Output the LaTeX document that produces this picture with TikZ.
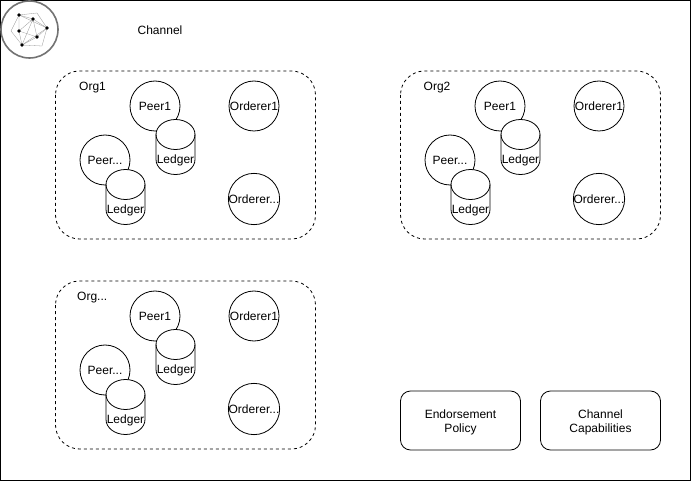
\documentclass[tikz,border=0pt]{standalone}
\usepackage{fontspec}
\setmainfont{Liberation Sans}
\tikzset{
  x=1pt,y=-1pt,
  lbl/.style={font=\fontsize{12}{15}\selectfont,inner sep=0pt,align=center,text=black},
  orgbox/.style={draw=black,rounded corners=24pt,line width=0.8pt,dash pattern=on 3pt off 3pt},
  solidbox/.style={draw=black,rounded corners=10pt,line width=0.8pt,fill=white},
  round/.style={draw=black,circle,minimum size=50pt,inner sep=0pt,line width=0.8pt,fill=white,font=\fontsize{12}{14}\selectfont},
  cyl/.style={draw=black,fill=white,line width=0.8pt},
  lnet/.style={draw=black!40,line width=0.3pt},
  ldot/.style={fill=black,circle,inner sep=0pt,minimum size=3.6pt},
}
\newcommand{\ledgerat}[3]{% x, y(top), name
  \draw[cyl] (#1,#2+15) .. controls (#1,#2+6.7) and (#1+8.8,#2) .. (#1+19.5,#2)
     .. controls (#1+30.2,#2) and (#1+39,#2+6.7) .. (#1+39,#2+15) -- (#1+39,#2+40)
     .. controls (#1+39,#2+48.3) and (#1+30.2,#2+55) .. (#1+19.5,#2+55)
     .. controls (#1+8.8,#2+55) and (#1,#2+48.3) .. (#1,#2+40) -- cycle;
  \draw[cyl,fill=none] (#1,#2+15) .. controls (#1,#2+23.3) and (#1+8.8,#2+30) .. (#1+19.5,#2+30)
     .. controls (#1+30.2,#2+30) and (#1+39,#2+23.3) .. (#1+39,#2+15);
  \node[lbl] (#3) at (#1+19.5,#2+41) {Ledger};
}
\newcommand{\orggroup}[5]{% dx, dy, prefix, label, label x
  \begin{scope}[shift={(#1,#2)}]
  \draw[orgbox] (55.5,71) rectangle (315.5,239);
  \node[lbl,anchor=base west] (#3name) at (#5,91) {#4};
  \node[round] (#3peerA) at (155,106) {Peer1};
  \ledgerat{156}{119.5}{#3ledgerA}
  \node[round] (#3peerB) at (105,160) {Peer...};
  \ledgerat{106}{169.5}{#3ledgerB}
  \node[round] (#3ordA) at (254,106) {Orderer1};
  \node[round] (#3ordB) at (254,199) {Orderer...};
  \end{scope}
}
\begin{document}
\begin{tikzpicture}
\useasboundingbox (0,0) rectangle (691,481);
\fill[white] (0,0) rectangle (691,481);
\draw[black,line width=1pt] (0.5,0.5) rectangle (690.5,480.5);
% logo
\node[draw=black!55,circle,minimum size=57pt,inner sep=0pt,line width=1.6pt,fill=white] (logo) at (29.5,29.5) {};
\coordinate (p1) at (19,15);
\coordinate (p2) at (33,19);
\coordinate (p3) at (47,28);
\coordinate (p4) at (19,31);
\coordinate (p5) at (37,37);
\coordinate (p6) at (22,45);
\coordinate (q1) at (37,13);
\coordinate (q2) at (11,31);
\coordinate (q3) at (42,46);
\draw[lnet] (p1)--(q1)--(p3)--(q3)--(p6)--(q2)--cycle;
\draw[lnet] (p1)--(p2)--(p3)--(p5)--(p6)--(p4)--cycle;
\draw[lnet] (p2)--(p4)--(p5)--(p2)--(p6);
\draw[lnet] (p1)--(p3)--(p6);
\foreach \n in {p1,p2,p3,p4,p5,p6}{\node[ldot] at (\n) {};}
\node[lbl] (title) at (160,30) {Channel};
\orggroup{0}{0}{a}{Org1}{79}
\orggroup{345}{0}{b}{Org2}{78.5}
\orggroup{0}{210}{c}{Org...}{77}
\node[solidbox,minimum width=120pt,minimum height=59pt,inner sep=0pt,lbl,draw=black,text depth=0pt] (endorse) at (460.5,420.5) {\raisebox{-1pt}{\shortstack[c]{Endorsement\\[1.5pt]Policy}}};
\node[solidbox,minimum width=120pt,minimum height=59pt,inner sep=0pt,lbl,draw=black,text depth=0pt] (caps) at (600.5,420.5) {\raisebox{-1pt}{\shortstack[c]{Channel\\[1.5pt]Capabilities}}};
\end{tikzpicture}
\end{document}
